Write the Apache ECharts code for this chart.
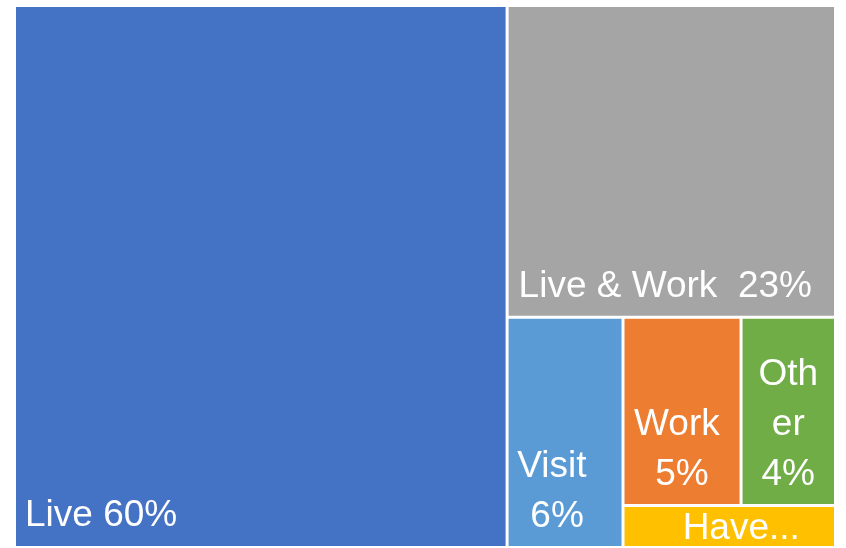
<!DOCTYPE html>
<html>
<head>
<meta charset="utf-8">
<script src="https://cdn.jsdelivr.net/npm/echarts@6/dist/echarts.min.js"></script>
<style>
html, body { margin: 0; padding: 0; background: #fff; }
#main { width: 846px; height: 548px; }
</style>
</head>
<body>
<div id="main"></div>
<script>
// share of respondents by category (%)
var names = ['Live', 'Live & Work', 'Visit', 'Work', 'Other', 'Have...'];
var shares = [60, 23, 6, 5, 4, 2];
var colors = ['#4472C4', '#A5A5A5', '#5B9BD5', '#ED7D31', '#70AD47', '#FFC000'];

var items = [];
for (var i = 0; i < names.length; i++) {
	items.push({ name: names[i], value: shares[i], itemStyle: { color: colors[i] } });
}
// Excel keeps the wide ones left aligned
items[0].label = { position: 'insideBottomLeft', align: 'left', padding: [0, 8, 5, 9] };
items[1].label = {
	position: 'insideBottomLeft', align: 'left', padding: [0, 4, 4, 10],
	formatter: function (p) { return p.name + '  ' + p.value + '%'; }
};
items[2].label = { padding: [0, 16, 4, 0] };
items[4].label = { formatter: function (p) { return 'Oth\ner\n' + p.value + '%'; } };
// the small one only has room for a clipped name
items[5].label = {
	position: 'insideTop', lineHeight: 28, padding: [8, 0, 0, 24],
	formatter: function (p) { return p.name; }
};

var chart = echarts.init(document.getElementById('main'));
chart.setOption({
	animation: false,
	series: [{
		type: 'treemap',
		left: 16, top: 7, right: 12, bottom: 2,
		roam: false,
		nodeClick: false,
		breadcrumb: { show: false },
		squareRatio: 1,
		itemStyle: { borderWidth: 0, gapWidth: 3 },
		levels: [{ itemStyle: { borderWidth: 0, gapWidth: 3 } }],
		label: {
			show: true,
			position: 'insideBottom',
			distance: 0,
			align: 'center',
			color: '#fff',
			fontFamily: 'Liberation Sans',
			fontSize: 37,
			lineHeight: 50,
			padding: [0, 8, 4, 8],
			overflow: 'break',
			formatter: function (p) { return p.name + ' ' + p.value + '%'; }
		},
		data: items
	}]
});
</script>
</body>
</html>
